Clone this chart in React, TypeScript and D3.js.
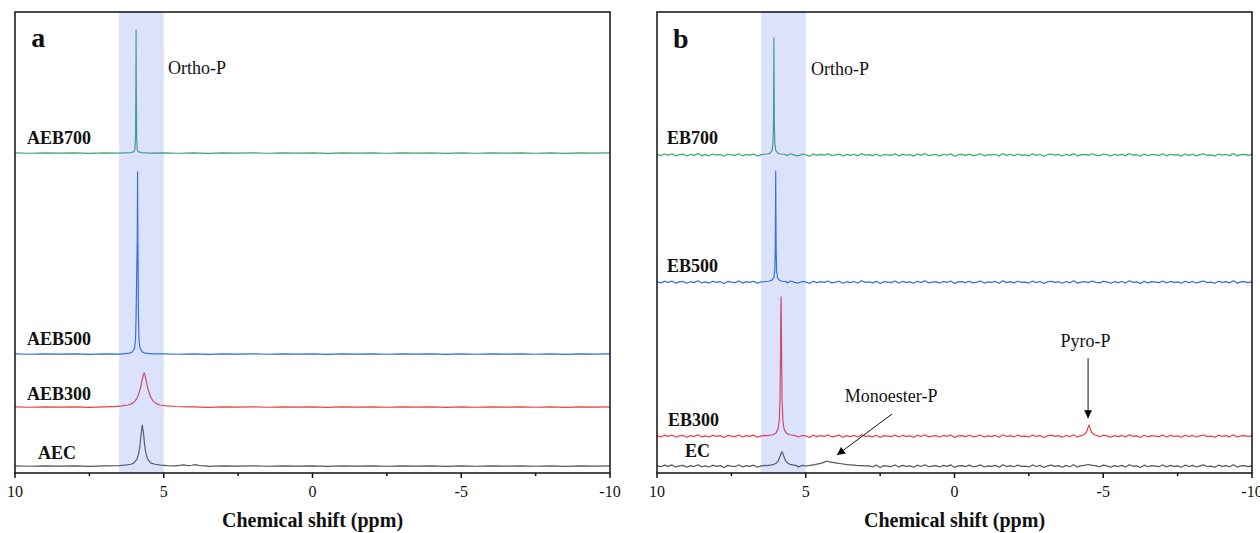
import React from 'react';
import * as d3 from 'd3';

type Pt = [number, number];

// ---------- shared axis data ----------
const PPM_DOMAIN: [number, number] = [10, -10];
const INTENSITY_DOMAIN: [number, number] = [0, 100];
const MAJOR_TICKS = [10, 5, 0, -5, -10];
const MINOR_TICKS = [7.5, 2.5, -2.5, -7.5];
const ORTHO_BAND: [number, number] = [6.5, 5.0];
const AXIS_TITLE = 'Chemical shift (ppm)';

// ---------- baseline texture ----------
const NOISE_A: Pt[] = [
  [10, 0.03], [9.5, -0.04], [9, 0.05], [8.5, -0.03], [8, 0.04], [7.5, -0.05], [7, 0.03], [6.5, -0.02],
  [6, 0.03], [5.5, -0.03], [5, 0.04], [4.5, -0.04], [4, 0.03], [3.5, -0.05], [3, 0.04], [2.5, -0.03],
  [2, 0.05], [1.5, -0.04], [1, 0.03], [0.5, -0.03], [0, 0.04], [-0.5, -0.05], [-1, 0.03], [-1.5, -0.03],
  [-2, 0.05], [-2.5, -0.04], [-3, 0.03], [-3.5, -0.03], [-4, 0.04], [-4.5, -0.05], [-5, 0.03], [-5.5, -0.04],
  [-6, 0.05], [-6.5, -0.03], [-7, 0.04], [-7.5, -0.04], [-8, 0.03], [-8.5, -0.05], [-9, 0.04], [-9.5, -0.03], [-10, 0.03],
];
// panel b baseline texture, sampled every 0.125 ppm from 10 to -10 (161 values)
const NOISE_B_PPM_START = 10;
const NOISE_B_PPM_STEP = 0.125;
const NOISE_B_VALUES = [
  0.1, -0.15, 0.2, -0.05, 0.25, -0.2, 0.05, 0.15, -0.25, 0.1, -0.1, 0.3, -0.15, 0.05, -0.2, 0.2,
  -0.05, 0.1, -0.3, 0.15, 0.0, -0.1, 0.25, -0.2, 0.1, -0.05, 0.2, -0.25, 0.05, 0.15, -0.1, 0.3,
  -0.2, 0.0, 0.1, -0.15, 0.25, -0.05, -0.2, 0.15, 0.05, -0.3, 0.2, -0.1, 0.1, -0.05, 0.25, -0.15,
  0.0, 0.2, -0.25, 0.1, -0.1, 0.15, -0.2, 0.3, -0.05, 0.05, -0.15, 0.2, -0.3, 0.1, 0.0, -0.1,
  0.25, -0.2, 0.15, -0.05, 0.05, -0.25, 0.2, -0.1, 0.3, -0.15, 0.0, 0.1, -0.2, 0.15, -0.05, 0.25,
  -0.3, 0.05, 0.1, -0.1, 0.2, -0.15, 0.0, 0.25, -0.2, 0.05, -0.05, 0.15, -0.25, 0.3, -0.1, 0.1,
  -0.15, 0.2, -0.05, 0.0, -0.2, 0.25, -0.1, 0.15, -0.3, 0.05, 0.2, -0.05, 0.1, -0.25, 0.15, -0.15,
  0.3, -0.2, 0.0, 0.1, -0.1, 0.25, -0.05, -0.15, 0.2, 0.05, -0.25, 0.1, -0.1, 0.15, -0.2, 0.3,
  -0.05, 0.05, -0.3, 0.2, -0.15, 0.1, 0.0, -0.1, 0.25, -0.2, 0.15, -0.05, 0.05, -0.25, 0.2, -0.1,
  0.15, -0.2, 0.05, 0.25, -0.1, 0.0, -0.25, 0.2, -0.05, 0.1, -0.15, 0.3, -0.2, 0.05, 0.1, -0.1,
  0.1,
];
const NOISE_B: Pt[] = NOISE_B_VALUES.map((v, i) => [NOISE_B_PPM_START - i * NOISE_B_PPM_STEP, v] as Pt);

// ---------- panel a ----------
const A_NAMES = ['AEB700', 'AEB500', 'AEB300', 'AEC'];
const A_OFFSETS = [69.4, 25.8, 14.3, 1.5];
const A_PEAKS: Pt[][][] = [
  [[[6.5, 0], [6.1, 0.1], [6.0, 0.3], [5.97, 0.8], [5.95, 3], [5.937, 15], [5.93, 26.7], [5.923, 15], [5.91, 3], [5.89, 0.8], [5.86, 0.3], [5.75, 0.1], [5.5, 0]]],
  [[[6.4, 0.05], [6.15, 0.2], [6.05, 0.5], [5.98, 1.3], [5.95, 3], [5.93, 8], [5.89, 25], [5.88, 39.5], [5.87, 25], [5.85, 8], [5.83, 3], [5.8, 1.3], [5.73, 0.5], [5.63, 0.2], [5.4, 0.05]]],
  [[[6.6, 0.15], [6.4, 0.25], [6.2, 0.45], [6.05, 0.8], [5.95, 1.4], [5.88, 2.2], [5.8, 3.7], [5.74, 5.4], [5.69, 7.0], [5.66, 7.4], [5.63, 7.0], [5.58, 5.4], [5.52, 3.7], [5.44, 2.2], [5.37, 1.4], [5.27, 0.8], [5.12, 0.45], [4.9, 0.25], [4.6, 0.12], [4.2, 0.05]]],
  [
    [[6.5, 0.1], [6.3, 0.2], [6.1, 0.4], [6.0, 0.7], [5.9, 1.5], [5.84, 2.8], [5.8, 4.4], [5.76, 7.0], [5.72, 8.9], [5.68, 7.0], [5.64, 4.4], [5.6, 2.8], [5.54, 1.5], [5.44, 0.7], [5.3, 0.4], [5.1, 0.2], [4.9, 0.1]],
    [[4.6, 0.05], [4.4, 0.2], [4.33, 0.28], [4.2, 0.12], [4.05, 0.18], [3.95, 0.32], [3.8, 0.12], [3.6, 0.05]],
  ],
];
const A_COLORS = ['#3aaa6a', '#2a6fe0', '#f03c46', '#555555'];
const A_LABEL_PPM = [9.6, 9.6, 9.6, 9.23];
const A_LABEL_DY = [2.8, 2.8, 2.4, 2.4];

// ---------- panel b ----------
const B_NAMES = ['EB700', 'EB500', 'EB300', 'EC'];
const B_OFFSETS = [69.0, 41.4, 8.0, 1.5];
const B_PEAKS: Pt[][][] = [
  [[[6.45, 0.1], [6.3, 0.2], [6.2, 0.4], [6.13, 1.0], [6.1, 2.5], [6.085, 7], [6.075, 18], [6.07, 25.4], [6.065, 18], [6.055, 7], [6.04, 2.5], [6.01, 1.0], [5.94, 0.4], [5.85, 0.2], [5.7, 0.1]]],
  [[[6.4, 0.1], [6.25, 0.2], [6.15, 0.4], [6.07, 1.0], [6.04, 2.5], [6.025, 7], [6.015, 17], [6.01, 24.1], [6.005, 17], [5.995, 7], [5.98, 2.5], [5.95, 1.0], [5.88, 0.4], [5.79, 0.2], [5.65, 0.1]]],
  [
    [[6.3, 0.1], [6.1, 0.3], [6.0, 0.7], [5.93, 1.6], [5.89, 3.5], [5.865, 8], [5.85, 16], [5.84, 25], [5.83, 30.2], [5.82, 25], [5.81, 16], [5.795, 8], [5.77, 3.5], [5.73, 1.6], [5.66, 0.7], [5.55, 0.3], [5.35, 0.1]],
    [[-4.2, 0], [-4.35, 0.3], [-4.43, 0.8], [-4.48, 1.7], [-4.52, 2.4], [-4.56, 1.7], [-4.61, 0.8], [-4.7, 0.3], [-4.85, 0]],
  ],
  [
    [[6.3, 0.1], [6.1, 0.3], [6.0, 0.6], [5.92, 1.2], [5.86, 2.2], [5.82, 2.9], [5.8, 3.1], [5.78, 2.9], [5.74, 2.2], [5.68, 1.2], [5.6, 0.6], [5.5, 0.3], [5.3, 0.1]],
    [[4.9, 0.1], [4.7, 0.3], [4.5, 0.6], [4.35, 0.9], [4.29, 1.1], [4.2, 0.9], [4.0, 0.7], [3.8, 0.5], [3.6, 0.3], [3.3, 0.15], [3.0, 0.05]],
    [[-4.2, 0], [-4.4, 0.2], [-4.5, 0.35], [-4.6, 0.2], [-4.8, 0]],
  ],
];
const B_COLORS = ['#3aaa6a', '#2a6fe0', '#f03c46', '#555555'];
const B_LABEL_PPM = [9.66, 9.66, 9.63, 9.06];
const B_LABEL_DY = [3.2, 3.1, 3.1, 2.8];

// ---------- annotations ----------
type Arrow = { text: string; textPpm: number; textY: number; from: Pt; to: Pt };
const B_ARROWS: Arrow[] = [
  { text: 'Monoester-P', textPpm: 2.13, textY: 16.2, from: [2.1, 12.8], to: [3.95, 3.9] },
  { text: 'Pyro-P', textPpm: -4.4, textY: 28.2, from: [-4.49, 24.9], to: [-4.49, 11.9] },
];

function buildTrace(noise: Pt[], peaks: Pt[][]): Pt[] {
  const windows = peaks.map((p) => [d3.min(p, (d) => d[0])!, d3.max(p, (d) => d[0])!]);
  const base = noise.filter((n) => !windows.some((w) => n[0] >= w[0] && n[0] <= w[1]));
  const all = base.concat(...peaks);
  return all.sort((a, b) => b[0] - a[0]);
}

type PanelProps = {
  id: string;
  left: number;
  top: number;
  width: number;
  height: number;
  letter: string;
  letterPpm: number;
  letterY: number;
  orthoPpm: number;
  orthoY: number;
  names: string[];
  offsets: number[];
  peaks: Pt[][][];
  colors: string[];
  noise: Pt[];
  labelPpm: number[];
  labelDy: number[];
  arrows: Arrow[];
};

const SERIF = '"Liberation Serif", "Times New Roman", serif';

function Panel(p: PanelProps) {
  const x = d3.scaleLinear().domain(PPM_DOMAIN).range([p.left, p.left + p.width]);
  const y = d3.scaleLinear().domain(INTENSITY_DOMAIN).range([p.top + p.height, p.top]);
  const bottom = p.top + p.height;
  const traces = p.peaks.map((pk, i) => buildTrace(p.noise, pk).map((d) => [d[0], d[1] + p.offsets[i]] as Pt));
  const line = d3
    .line<Pt>()
    .x((d) => x(d[0]))
    .y((d) => y(d[1]));
  const markerId = `arrow-${p.id}`;
  return (
    <g>
      <defs>
        <marker id={markerId} viewBox="0 0 10 10" refX="10" refY="5" markerWidth="9" markerHeight="8" orient="auto" markerUnits="userSpaceOnUse">
          <path d="M0,0 L10,5 L0,10 z" fill="#000" />
        </marker>
      </defs>
      {traces.map((t, i) => (
        <path key={i} d={line(t) || ''} fill="none" stroke={p.colors[i]} strokeWidth={1.2} strokeLinejoin="round" />
      ))}
      <rect
        x={x(ORTHO_BAND[0])}
        y={p.top}
        width={x(ORTHO_BAND[1]) - x(ORTHO_BAND[0])}
        height={p.height}
        fill="rgb(100,125,240)"
        fillOpacity={0.22}
      />
      <rect x={p.left} y={p.top} width={p.width} height={p.height} fill="none" stroke="#111" strokeWidth={1.5} />
      {MAJOR_TICKS.map((t) => (
        <g key={`M${t}`}>
          <line x1={x(t)} x2={x(t)} y1={bottom} y2={bottom + 5} stroke="#111" strokeWidth={1.5} />
          <text x={x(t)} y={bottom + 20} textAnchor="middle" dominantBaseline="middle" fontFamily={SERIF} fontSize={16} fill="#111">
            {t}
          </text>
        </g>
      ))}
      {MINOR_TICKS.map((t) => (
        <line key={`m${t}`} x1={x(t)} x2={x(t)} y1={bottom} y2={bottom + 3} stroke="#111" strokeWidth={1.5} />
      ))}
      <text x={p.left + p.width / 2} y={bottom + 49} textAnchor="middle" dominantBaseline="middle" fontFamily={SERIF} fontWeight="bold" fontSize={20} fill="#111">
        {AXIS_TITLE}
      </text>
      {p.names.map((n, i) => (
        <text
          key={n}
          x={x(p.labelPpm[i])}
          y={y(p.offsets[i] + p.labelDy[i])}
          dominantBaseline="middle"
          fontFamily={SERIF}
          fontWeight="bold"
          fontSize={18}
          fill="#111"
        >
          {n}
        </text>
      ))}
      <text x={x(p.letterPpm)} y={y(p.letterY)} dominantBaseline="middle" fontFamily={SERIF} fontWeight="bold" fontSize={28} fill="#111">
        {p.letter}
      </text>
      <text x={x(p.orthoPpm)} y={y(p.orthoY)} dominantBaseline="middle" fontFamily={SERIF} fontSize={18} fill="#111">
        Ortho-P
      </text>
      {p.arrows.map((a) => (
        <g key={a.text}>
          <text x={x(a.textPpm)} y={y(a.textY)} textAnchor="middle" dominantBaseline="middle" fontFamily={SERIF} fontSize={18} fill="#111">
            {a.text}
          </text>
          <line x1={x(a.from[0])} y1={y(a.from[1])} x2={x(a.to[0])} y2={y(a.to[1])} stroke="#111" strokeWidth={1} markerEnd={`url(#${markerId})`} />
        </g>
      ))}
    </g>
  );
}

export default function App() {
  return (
    <svg width={1260} height={533} style={{ position: 'absolute', left: 0, top: 0, background: '#fff' }}>
      <rect width={1260} height={533} fill="#fff" />
      <Panel
        id="a"
        left={15}
        top={12}
        width={595}
        height={461}
        letter="a"
        letterPpm={9.45}
        letterY={93.9}
        orthoPpm={4.86}
        orthoY={87.4}
        names={A_NAMES}
        offsets={A_OFFSETS}
        peaks={A_PEAKS}
        colors={A_COLORS}
        noise={NOISE_A}
        labelPpm={A_LABEL_PPM}
        labelDy={A_LABEL_DY}
        arrows={[]}
      />
      <Panel
        id="b"
        left={657}
        top={12}
        width={595}
        height={461}
        letter="b"
        letterPpm={9.46}
        letterY={93.5}
        orthoPpm={4.82}
        orthoY={87.2}
        names={B_NAMES}
        offsets={B_OFFSETS}
        peaks={B_PEAKS}
        colors={B_COLORS}
        noise={NOISE_B}
        labelPpm={B_LABEL_PPM}
        labelDy={B_LABEL_DY}
        arrows={B_ARROWS}
      />
    </svg>
  );
}
